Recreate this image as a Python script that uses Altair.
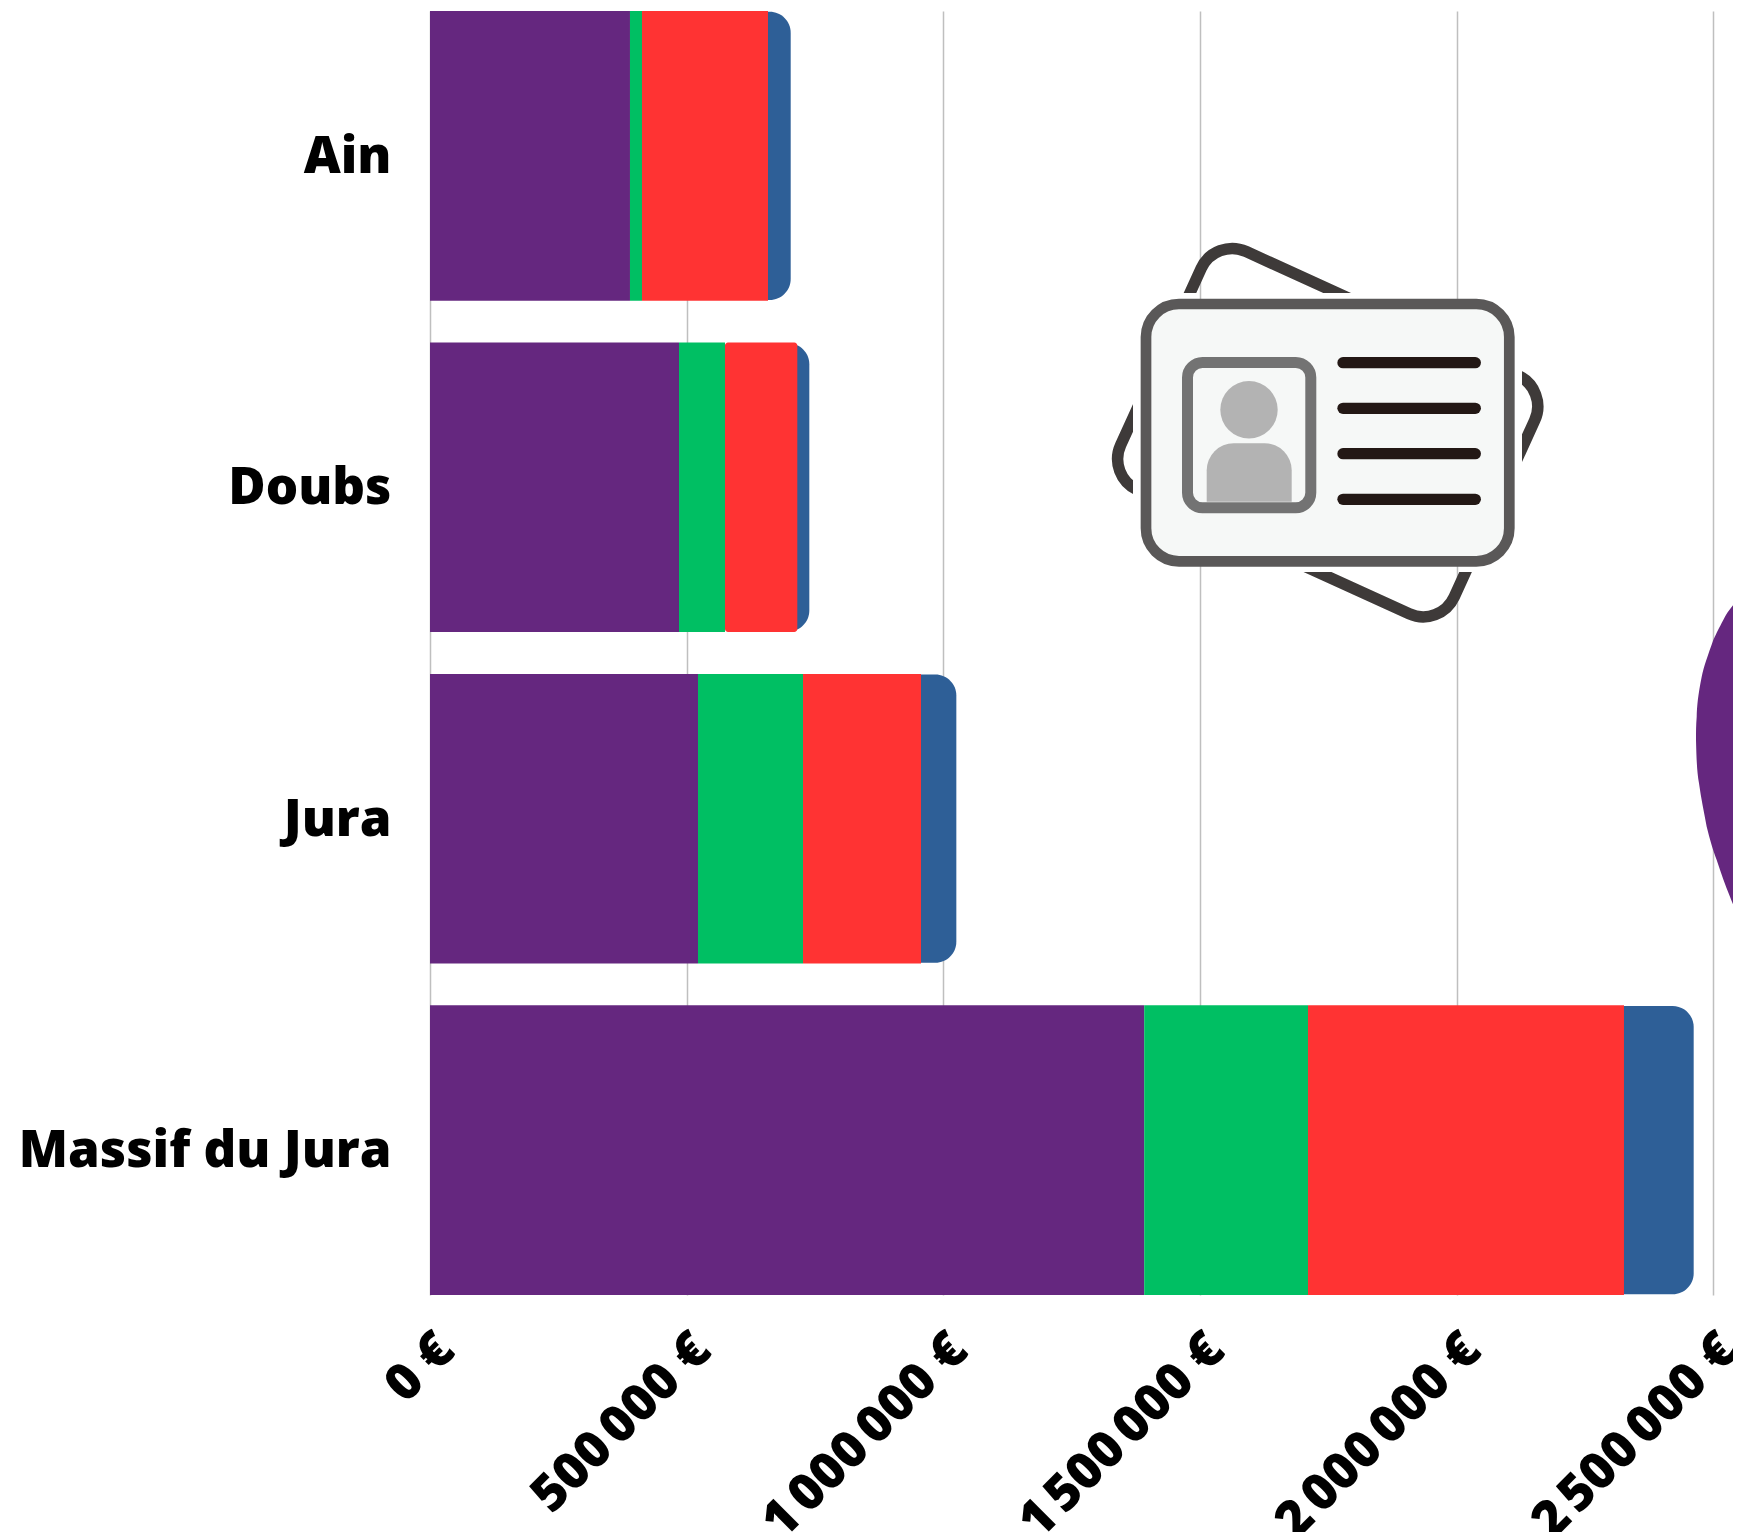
import base64
import altair as alt
import pandas as pd

departements = ["Ain", "Doubs", "Jura", "Massif du Jura"]
serie_a = [389600, 485100, 522100, 1391400]
serie_b = [23400, 89600, 204600, 319100]
serie_c = [245500, 140900, 229900, 615600]
serie_d = [44200, 23400, 68800, 135800]
tick_values = [0, 500000, 1000000, 1500000, 2000000, 2500000]
series = ["a", "b", "c", "d"]
colors = ["#65277f", "#00bf63", "#ff3333", "#2e5f97"]

rows = []
for i, dep in enumerate(departements):
    s = 0
    for name, vals in zip(series, [serie_a, serie_b, serie_c, serie_d]):
        rows.append({"dep": dep, "serie": name, "start": s, "end": s + vals[i]})
        s += vals[i]
df = pd.DataFrame(rows)
total = df.groupby("dep")["end"].max()
under = df[df.serie == "c"].copy()
under["start"] = (under["start"] + under["end"]) / 2
under["serie"] = "d"
under["end"] = under["dep"].map(total)

x_scale = alt.Scale(domain=[0, 2538500], nice=False, zero=False)
y_scale = alt.Scale(domain=departements, paddingInner=0.126, paddingOuter=0)
c_scale = alt.Scale(domain=series, range=colors)
label_expr = "replace(format(datum.value, ','), regexp(',', 'g'), '\u202f') + ' €'"
FONT = "Open Sans"

x_enc = alt.X(
    "start:Q", scale=x_scale, title=None,
    axis=alt.Axis(values=tick_values, labelExpr=label_expr, labelAngle=-45, labelAlign="right",
                  labelBaseline="middle", labelFont=FONT, labelFontWeight=800, labelFontSize=51,
                  labelColor="#000000", labelPadding=47, labelOffset=16, labelOverlap=False, labelBound=False,
                  labelFlush=False, labelLimit=0, ticks=False, domain=False, grid=True, gridColor="#bfbfbf", gridWidth=1.5),
)
y_enc = alt.Y(
    "dep:N", scale=y_scale, title=None, sort=departements,
    axis=alt.Axis(labelFont=FONT, labelFontWeight=800, labelFontSize=51, labelColor="#000000",
                  labelPadding=39, labelOffset=2, ticks=False, domain=False, grid=False, labelLimit=0),
)
color_enc = alt.Color("serie:N", scale=c_scale, legend=None)


def bars(data, **mark):
    return alt.Chart(data).mark_bar(**mark).encode(x=x_enc, x2="end:Q", y=y_enc, color=color_enc)


svg = """<svg xmlns="http://www.w3.org/2000/svg" viewBox="430 11 1311 1529" width="1311" height="1529">
<defs><clipPath id="c"><path clip-rule="evenodd" d="M430 11H1741V1540H430Z M1133 293V572H1522V293Z"/></clipPath></defs>
<path fill="#65277f" d="M1745 592 L1740.7 596.7 C1733 605 1727 612 1723.3 620 C1719 628 1717 632 1713.3 640 C1708 655 1704 666 1701.7 676.7 C1698 695 1697 706 1696.7 716.7 C1696 725 1696 732 1696 740 C1696.5 760 1697 772 1699 783.3 C1701 798 1704 812 1706.7 826.7 C1710 840 1713 850 1716.7 860 C1721 873 1725 885 1730 896.7 C1733 905 1737 913 1740.7 921.7 L1745 930 Z"/>
<g clip-path="url(#c)"><rect x="1144.45" y="301.7" width="366.5" height="262" rx="34" transform="rotate(24.5 1327.7 432.7)" fill="none" stroke="#3e3a39" stroke-width="11.5"/></g>
<rect x="1146" y="304" width="363.3" height="257.3" rx="33" fill="#f6f8f7" stroke="#5a5858" stroke-width="10.7"/>
<rect x="1187.5" y="362.5" width="123.3" height="145.3" rx="15" fill="#f6f8f7" stroke="#737373" stroke-width="11"/>
<circle cx="1249" cy="409.7" r="28.7" fill="#b3b3b3"/>
<path fill="#b3b3b3" d="M1206.7 501.7V470.3A27 27 0 0 1 1233.7 443.3H1264.7A27 27 0 0 1 1291.7 470.3V501.7Z"/>
<g stroke="#231815" stroke-width="11.3" stroke-linecap="round"><path d="M1343 362.7H1475.3"/><path d="M1343 408.3H1475.3"/><path d="M1343 453.7H1475.3"/><path d="M1343 499.3H1475.3"/></g>
</svg>"""
uri = "data:image/svg+xml;base64," + base64.b64encode(svg.encode()).decode()

image = (
    alt.Chart(alt.Data(values=[{"k": 1}]))
    .mark_image(width=1311, height=1529, align="left", baseline="top", aspect=False, clip=False)
    .encode(x=alt.value(0), y=alt.value(0), url=alt.value(uri))
)

layers = [
    bars(under, cornerRadiusEnd=21, size=288.3),
    bars(df[df.serie == "a"]),
    bars(df[df.serie == "b"]),
    bars(df[(df.serie == "c") & (df.dep != "Doubs")]),
    bars(df[(df.serie == "c") & (df.dep == "Doubs")], cornerRadiusEnd=3),
    image,
]

chart = (
    alt.layer(*layers)
    .resolve_scale(x="shared", y="shared", color="shared")
    .properties(
        width=1303, height=1284,
        autosize=alt.AutoSizeParams(type="none"),
        padding={"left": 422, "top": 3, "right": 0, "bottom": 237},
        background="#ffffff",
    )
    .configure_view(stroke=None)
)
chart.save("out.html", embed_options={"renderer": "svg", "actions": False})
